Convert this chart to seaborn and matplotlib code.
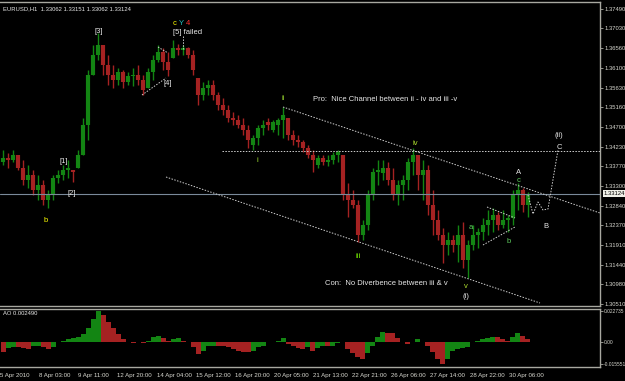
import numpy as np
import pandas as pd
import matplotlib
matplotlib.use("Agg")
import matplotlib.pyplot as plt
import matplotlib.transforms as mtransforms
import seaborn as sns

# ---------------- data (EURUSD H1, 4-hour groups) ----------------
high = [1.3415,1.3408,1.3415,1.3404,1.3392,1.3380,1.3368,1.3356,1.3344,1.3321,
        1.3356,1.3368,1.3380,1.3392,1.3368,1.3415,1.3491,1.3605,1.3664,1.3692,
        1.3664,1.3640,1.3617,1.3609,1.3605,1.3600,1.3609,1.3617,1.3593,1.3609,
        1.3640,1.3664,1.3657,1.3647,1.3676,1.3666,1.3664,1.3659,1.3652,1.3586,
        1.3576,1.3581,1.3581,1.3553,1.3538,1.3522,1.3505,1.3498,1.3491,1.3475,
        1.3451,1.3475,1.3486,1.3491,1.3486,1.3491,1.3517,1.3491,1.3463,1.3451,
        1.3439,1.3427,1.3415,1.3404,1.3404,1.3404,1.3411,1.3415,1.3404,1.3337,
        1.3321,1.3297,1.3250,1.3321,1.3373,1.3392,1.3392,1.3387,1.3373,1.3344,
        1.3356,1.3397,1.3420,1.3404,1.3392,1.3380,1.3321,1.3273,1.3231,1.3221,
        1.3214,1.3238,1.3245,1.3202,1.3238,1.3231,1.3254,1.3273,1.3278,1.3269,
        1.3273,1.3262,1.3321,1.3337,1.3326,1.33151]
low = [1.3380,1.3373,1.3387,1.3368,1.3333,1.3326,1.3309,1.3297,1.3285,1.3278,
       1.3297,1.3337,1.3344,1.3349,1.3340,1.3373,1.3404,1.3439,1.3593,1.3628,
       1.3593,1.3569,1.3562,1.3569,1.3562,1.3569,1.3567,1.3569,1.3546,1.3562,
       1.3581,1.3624,1.3605,1.3591,1.3633,1.3640,1.3640,1.3633,1.3593,1.3522,
       1.3534,1.3546,1.3534,1.3510,1.3498,1.3482,1.3475,1.3467,1.3451,1.3420,
       1.3415,1.3427,1.3451,1.3463,1.3458,1.3451,1.3444,1.3439,1.3427,1.3423,
       1.3411,1.3397,1.3363,1.3373,1.3380,1.3378,1.3382,1.3387,1.3297,1.3257,
       1.3278,1.3198,1.3202,1.3226,1.3297,1.3333,1.3344,1.3333,1.3297,1.3285,
       1.3297,1.3321,1.3356,1.3321,1.3297,1.3262,1.3214,1.3202,1.3148,1.3167,
       1.3174,1.3150,1.3136,1.3113,1.3179,1.3184,1.3202,1.3214,1.3221,1.3226,
       1.3231,1.3221,1.3238,1.3273,1.3269,1.3257]
open_ = [1.3387,1.3397,1.3392,1.3404,1.3373,1.3344,1.3356,1.3321,1.3333,1.3297,
         1.3309,1.3349,1.3356,1.3368,1.3368,1.3373,1.3404,1.3475,1.3593,1.3640,
         1.3664,1.3617,1.3593,1.3581,1.3600,1.3576,1.3591,1.3593,1.3581,1.3562,
         1.3600,1.3628,1.3647,1.3624,1.3633,1.3657,1.3652,1.3657,1.3640,1.3586,
         1.3546,1.3562,1.3569,1.3546,1.3522,1.3510,1.3491,1.3486,1.3475,1.3463,
         1.3427,1.3444,1.3467,1.3482,1.3463,1.3475,1.3486,1.3491,1.3451,1.3439,
         1.3434,1.3420,1.3404,1.3380,1.3397,1.3387,1.3392,1.3404,1.3404,1.3309,
         1.3297,1.3285,1.3214,1.3238,1.3309,1.3363,1.3362,1.3373,1.3344,1.3309,
         1.3333,1.3344,1.3387,1.3404,1.3356,1.3368,1.3285,1.3250,1.3214,1.3191,
         1.3202,1.3191,1.3214,1.3155,1.3191,1.3214,1.3221,1.3238,1.3250,1.3262,
         1.3238,1.3250,1.3254,1.3309,1.3321,1.3285]
close = [1.3397,1.3392,1.3404,1.3373,1.3344,1.3356,1.3321,1.3333,1.3297,1.3309,
         1.3349,1.3356,1.3368,1.3373,1.3363,1.3404,1.3475,1.3593,1.3640,1.3664,
         1.3617,1.3593,1.3581,1.3600,1.3576,1.3591,1.3593,1.3581,1.3557,1.3600,
         1.3628,1.3647,1.3624,1.3605,1.3657,1.3652,1.3657,1.3640,1.3605,1.3546,
         1.3562,1.3569,1.3546,1.3522,1.3510,1.3491,1.3486,1.3475,1.3463,1.3439,
         1.3444,1.3467,1.3475,1.3475,1.3482,1.3486,1.3498,1.3451,1.3439,1.3434,
         1.3420,1.3404,1.3392,1.3397,1.3387,1.3392,1.3404,1.3411,1.3309,1.3297,
         1.3285,1.3214,1.3238,1.3309,1.3363,1.3368,1.3373,1.3344,1.3309,1.3333,
         1.3344,1.3387,1.3404,1.3356,1.3368,1.3285,1.3250,1.3214,1.3191,1.3202,
         1.3191,1.3214,1.3155,1.3191,1.3214,1.3221,1.3238,1.3250,1.3262,1.3238,
         1.3250,1.3254,1.3309,1.3321,1.3285,1.33124]
ao = [-0.0072,-0.0043,-0.0036,-0.0036,-0.0043,-0.0050,-0.0029,-0.0022,-0.0036,-0.0050,
      -0.0036,0.0000,0.0014,0.0022,0.0029,0.0036,0.0058,0.0101,0.0173,0.022735,
      0.0202,0.0151,0.0108,0.0058,0.0022,0.0000,-0.0007,0.0007,-0.0007,0.0014,
      0.0036,0.0050,0.0029,0.0014,0.0022,0.0029,0.0014,0.0000,-0.0036,-0.0086,
      -0.0058,-0.0029,-0.0022,-0.0022,-0.0022,-0.0036,-0.0050,-0.0065,-0.0072,-0.0072,
      -0.0058,-0.0036,-0.0022,0.0000,0.0007,0.0014,0.0029,-0.0014,-0.0029,-0.0043,
      -0.0050,-0.0036,-0.0058,-0.0043,-0.0029,-0.0029,-0.0022,-0.0007,0.0000,-0.0050,
      -0.0079,-0.0108,-0.0122,-0.0079,-0.0022,0.0043,0.0079,0.0072,0.0065,0.0029,
      0.0000,-0.0014,0.0007,0.0022,0.0007,-0.0022,-0.0072,-0.0122,-0.015551,-0.0122,
      -0.0065,-0.0050,-0.0043,-0.0036,0.0000,0.0014,0.0022,0.0029,0.0043,0.0036,
      0.0022,0.0014,0.0043,0.0072,0.0050,0.0025]
price_ticks = [1.37490,1.37030,1.36560,1.36100,1.35630,1.35160,1.34700,1.34230,
               1.33770,1.33300,1.32840,1.32370,1.31910,1.31440,1.30980,1.30510]
price_labels = ["%.5f" % p for p in price_ticks]
ao_ticks = [0.022735, 0.0, -0.015551]
ao_labels = ["0.022735", "0.00", "-0.015551"]
date_labels = ["5 Apr 2010", "8 Apr 03:00", "9 Apr 11:00", "12 Apr 20:00",
               "14 Apr 04:00", "15 Apr 12:00", "16 Apr 20:00", "20 Apr 05:00",
               "21 Apr 13:00", "22 Apr 21:00", "26 Apr 06:00", "27 Apr 14:00",
               "28 Apr 22:00", "30 Apr 06:00"]
last_price = 1.33124
title_text = "EURUSD,H1  1.33062 1.33151 1.33062 1.33124"
ao_title = "AO 0.002490"

# ---------------- style ----------------
sns.set_theme(style="dark", rc={"axes.facecolor": "black", "figure.facecolor": "black",
                                "axes.edgecolor": "#a0a0a0", "axes.grid": False})
plt.rcParams["font.family"] = ["Liberation Sans", "DejaVu Sans"]

GREEN = "#138513"
RED = "#a52222"
FRAME = "#a8a8a0"
TXT = "#e8e8e8"
SMALL = 4.2
LAB = 5.5

W, H = 625, 381
fig = plt.figure(figsize=(W / 100, H / 100), dpi=100, facecolor="black")
ax = fig.add_axes([0, 1 - 306 / H, 600 / W, (306 - 2) / H])
ax2 = fig.add_axes([0, 1 - 367 / H, 600 / W, (367 - 309) / H])


def at(xp, yp):
    """reference pixel position -> main data coords (for annotations)"""
    return xp / 5.0, 1.37703 - 0.0002366 * yp


# ---------------- candles ----------------
n = len(close)
x = np.arange(n) + 0.5
o = np.array(open_); c = np.array(close)
cols = np.where(c >= o, GREEN, RED)
ax.vlines(x, low, high, colors=cols, lw=1.0)
ax.vlines(x, np.minimum(o, c), np.maximum(o, c), colors=cols, lw=3.0)

ax.set_xlim(0, 120)
ax.set_ylim(1.30463, 1.37656)

# current price line
ax.axhline(last_price, color="#7a8a9a", lw=0.8)

# dotted guide lines
dot = dict(color="#cfcfcf", lw=0.7, ls=(0, (1.5, 1.5)))
for (p1, p2) in [((283, 107), (600, 213)),   # upper channel ii-iv
                 ((166, 177), (540, 303)),   # lower channel iii-v
                 ((222, 151), (600, 151)),   # horizontal level
                 ((142, 95), (166, 78)),     # [4] line
                 ((158, 47), (168, 53)),
                 ((183, 36), (183, 49)),     # [5] failed
                 ((487, 207), (515, 218)),   # triangle upper
                 ((483, 245), (515, 227))]:  # triangle lower
    a = at(*p1); b = at(*p2)
    ax.plot([a[0], b[0]], [a[1], b[1]], **dot)
proj = [at(528, 195), at(533, 214), at(538, 202), at(543, 210), at(548, 209), at(558, 150)]
ax.plot([p[0] for p in proj], [p[1] for p in proj], **dot)

# wave labels
labels = [("b", 46, 220, "#ffff00"), ("[1]", 64, 161, TXT), ("[2]", 72, 193, TXT),
          ("[3]", 99, 31, TXT), ("[4]", 168, 83, TXT),
          ("c", 175, 23, "#ffff00"), ("Y", 181, 23, "#20c0c0"), ("4", 188, 23, "#ff3030"),
          ("i", 257, 160, "#a0e030"), ("ii", 283, 98, "#a0e030"), ("iii", 358, 256, "#7cfc00"),
          ("iv", 415, 143, "#b0e030"), ("v", 466, 287, "#b0e030"), ("(i)", 466, 297, TXT),
          ("a", 471, 227, "#60d060"), ("b", 509, 241, "#60d060"),
          ("A", 519, 172, TXT), ("c", 519, 180, "#60d060"),
          ("B", 546, 226, TXT), ("C", 559, 147, TXT), ("(ii)", 559, 135, TXT)]
for t, xp, yp, col in labels:
    ax.text(*at(xp, yp), t, color=col, fontsize=LAB, ha="center", va="center")
ax.text(*at(173, 32), "[5] failed", color=TXT, fontsize=LAB, ha="left", va="center")
ax.text(*at(313, 99), "Pro:  Nice Channel between ii - iv and iii -v",
        color=TXT, fontsize=LAB, ha="left", va="center")
ax.text(*at(325, 284), "Con:  No Diverbence between iii & v",
        color=TXT, fontsize=LAB, ha="left", va="center")
ax.text(3 / 600, 1 - 4 / 304, title_text, transform=ax.transAxes, color=TXT,
        fontsize=SMALL, ha="left", va="top")

# right price axis
ax.yaxis.tick_right()
ax.set_yticks(price_ticks, price_labels)
ax.tick_params(axis="y", length=2.5, width=0.6, color=FRAME, labelcolor="#d8d8d0",
               labelsize=SMALL, pad=1)
ax.set_xticks([])
ax.spines["left"].set_visible(False)
for s in ["top", "right", "bottom"]:
    ax.spines[s].set_color(FRAME)
    ax.spines[s].set_linewidth(1.0)
trans = mtransforms.blended_transform_factory(ax.transAxes, ax.transData)
ax.text(1.006, last_price, "1.33124", transform=trans, fontsize=SMALL, color="black",
        ha="left", va="center", bbox=dict(facecolor="#f0f0e8", edgecolor="none", pad=0.5))

# ---------------- AO histogram ----------------
aov = np.array(ao)
direction = ["up" if i > 0 and aov[i] > aov[i - 1] else "down" for i in range(n)]
df = pd.DataFrame({"x": x, "ao": aov, "dir": direction})
sns.barplot(data=df, x="x", y="ao", hue="dir", palette={"up": GREEN, "down": RED},
            native_scale=True, width=1.0, dodge=False, legend=False, errorbar=None,
            saturation=1, linewidth=0, ax=ax2)
ax2.set_xlim(0, 120)
ax2.set_ylim(-0.017718, 0.024180)
ax2.set_xlabel(""); ax2.set_ylabel("")
ax2.yaxis.tick_right()
ax2.set_yticks(ao_ticks, ao_labels)
ax2.tick_params(axis="y", length=2, width=0.6, color=FRAME, labelcolor="#d8d8d0",
                labelsize=3.5, pad=0.5)
tick_pos = [-0.2 + k * 7.84 for k in range(len(date_labels))]
ax2.set_xticks(tick_pos, date_labels)
ax2.tick_params(axis="x", length=2, width=0.6, color=FRAME, labelcolor="#d8d8d0",
                labelsize=SMALL + 0.2, pad=2)
for lab in ax2.get_xticklabels():
    lab.set_ha("left")
ax2.spines["left"].set_visible(False)
for s in ["top", "right", "bottom"]:
    ax2.spines[s].set_color(FRAME)
    ax2.spines[s].set_linewidth(1.0)
ax2.text(3 / 600, 1 - 2 / 58, ao_title, transform=ax2.transAxes, color=TXT,
         fontsize=SMALL, ha="left", va="top")

fig.savefig("out.png", dpi=100, facecolor="black")
